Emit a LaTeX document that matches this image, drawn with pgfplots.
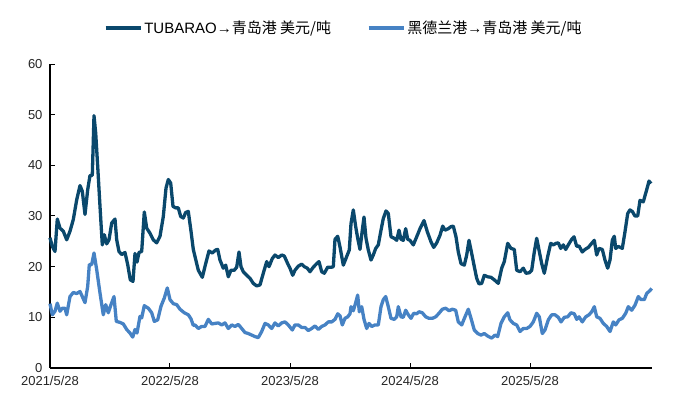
\documentclass[border=0pt]{standalone}
\usepackage{fontspec}
\setmainfont{Liberation Sans}
\newfontfamily\cjk{Noto Sans CJK SC}
\usepackage{pgfplots}
\pgfplotsset{compat=1.18}

\definecolor{darkline}{RGB}{10,72,108}
\definecolor{lightline}{RGB}{70,130,196}

% x = months since 2021/5/28
\pgfplotstableread{
m v
0 25.7
0.23 24
0.5 23
0.73 29.4
1.0 27.6
1.33 27
1.67 25.3
2.0 27
2.33 29.3
2.67 33.2
3.0 36
3.23 34.9
3.5 30.3
3.77 35.2
4.0 38
4.23 38
4.4 49.8
4.57 46.4
4.77 39.8
5.0 31.9
5.23 24.3
5.43 26.3
5.67 24.5
5.9 25.3
6.17 28.6
6.5 29.4
6.67 25.3
6.9 23
7.17 22.4
7.5 22.8
7.77 20.4
8.03 17.4
8.3 17.1
8.5 22.6
8.7 20.9
8.9 22.8
9.17 23
9.43 30.8
9.67 27.6
10.0 26.6
10.33 25.3
10.67 24.7
11.0 26
11.33 29.9
11.6 35.5
11.83 37.2
12.07 36.5
12.3 31.9
12.57 31.6
12.83 31.6
13.07 29.9
13.33 29.6
13.57 30.7
13.83 30.9
14.1 27
14.33 23.4
14.5 22
14.83 19.3
15.23 17.9
15.57 20.6
15.9 23.1
16.23 22.7
16.57 23.3
16.77 23.4
17.0 21.3
17.33 19.7
17.57 20.3
17.83 18
18.1 19.3
18.43 19.3
18.67 19.9
18.9 22.9
19.1 20
19.33 19
19.67 18.3
20.0 17.7
20.33 16.7
20.67 16.2
21.0 16.4
21.33 18.7
21.67 21
21.9 20
22.23 21.6
22.5 22.3
22.83 21.8
23.17 22.3
23.43 22.1
23.77 20.6
24.0 19.7
24.27 18.3
24.5 19.3
24.83 20.1
25.17 20.5
25.43 20
25.73 19.7
26.0 19
26.33 19.9
26.67 20.6
26.9 21
27.17 19
27.43 18.7
27.77 19.9
28.17 19.9
28.33 20
28.5 25.4
28.77 26
29.0 23.9
29.33 20.3
29.67 22
29.93 23.3
30.1 28.5
30.33 31.2
30.57 27.9
30.77 25.6
31.0 23.4
31.23 27.2
31.4 29.8
31.6 25.6
31.83 23.3
32.1 21.3
32.33 22.3
32.57 23.6
32.83 24.3
33.1 27.2
33.33 29.5
33.6 31.0
33.83 30.5
34.1 25.9
34.43 25.6
34.67 25.2
34.9 27.2
35.1 25.4
35.33 25.2
35.57 27.5
35.77 25.4
36.0 25.2
36.33 24.3
36.67 25.9
37.0 27.5
37.4 29.1
37.73 26.9
38.1 24.9
38.37 23.8
38.67 24.7
39.0 26.2
39.27 28.0
39.5 27.2
39.83 27.5
40.1 27.9
40.33 28.0
40.6 25.9
40.83 22.9
41.1 20.6
41.43 20.3
41.67 22.3
41.9 25.2
42.17 22.6
42.43 20.0
42.67 17.7
42.9 16.6
43.17 16.7
43.43 18.3
43.77 18.0
44.1 17.9
44.43 17.4
44.83 16.7
45.17 19.7
45.43 21.0
45.77 24.6
46.1 23.6
46.43 23.4
46.67 19.3
47.0 19.0
47.33 19.7
47.6 18.7
47.93 18.8
48.17 19.3
48.43 22.9
48.67 25.6
48.9 23.3
49.17 20.6
49.43 18.7
49.77 22.0
50.07 24.6
50.33 24.3
50.6 24.6
50.83 24.7
51.07 23.6
51.33 24.3
51.57 23.4
51.83 24.3
52.17 25.4
52.4 25.9
52.67 24.0
52.9 24.1
53.23 22.9
53.5 23.4
53.83 23.8
54.17 24.6
54.43 25.2
54.67 22.3
54.9 23.6
55.23 23.4
55.5 21.3
55.77 19.7
56.0 21.3
56.23 25.2
56.43 26.0
56.57 23.6
56.83 24.0
57.23 23.6
57.5 26.9
57.77 30.5
58.0 31.2
58.23 30.9
58.5 30.0
58.77 30.0
59.0 33.1
59.33 32.8
59.57 34.5
59.77 35.9
59.9 36.9
60.1 36.4
}\tubarao

\pgfplotstableread{
m v
0 12.7
0.23 10.5
0.5 11.2
0.73 12.8
1.0 11.2
1.23 11.8
1.5 11.8
1.67 10.5
2.0 14.1
2.33 14.9
2.67 14.7
3.0 15.1
3.23 14.1
3.5 12.9
3.77 16.1
3.93 20.4
4.17 20.4
4.4 22.7
4.67 19.4
5.0 14.8
5.33 10.5
5.57 12.5
5.83 10.9
6.1 12.5
6.4 14.1
6.63 9.2
7.0 9.0
7.33 8.7
7.67 7.6
8.0 6.9
8.27 6.1
8.5 7.6
8.7 6.9
9.0 10.2
9.17 9.9
9.43 12.3
9.83 11.8
10.17 10.9
10.43 9.2
10.77 9.5
11.1 12.2
11.43 13.8
11.73 15.8
12.0 13.5
12.33 12.7
12.67 12.5
13.0 11.6
13.43 10.9
13.83 10.5
14.1 9.7
14.33 8.4
14.5 8.5
14.83 7.8
15.17 8.2
15.5 8.2
15.83 9.6
16.17 8.7
16.5 8.8
16.83 8.9
17.17 8.5
17.5 8.9
17.83 7.8
18.17 8.5
18.5 8.2
18.83 8.6
19.17 7.8
19.5 7.0
19.83 6.8
20.17 6.5
20.5 6.2
20.83 6.0
21.17 7.2
21.5 8.8
21.83 8.5
22.17 7.8
22.5 8.9
22.83 8.3
23.17 8.9
23.5 9.1
23.83 8.5
24.23 7.5
24.5 8.5
24.83 8.5
25.17 8.0
25.5 8.0
25.83 7.4
26.17 7.8
26.5 8.3
26.83 7.6
27.17 8.2
27.5 8.5
27.83 9.1
28.17 9.1
28.5 9.6
28.77 10.7
29.0 10.3
29.23 8.5
29.5 9.8
29.77 10.1
30.0 10.7
30.1 12.1
30.33 11.3
30.57 12.9
30.77 14.4
30.93 11.1
31.17 12.1
31.4 9.6
31.67 7.8
31.9 8.8
32.17 8.2
32.5 8.5
32.83 8.5
33.1 12.1
33.33 13.5
33.57 14.1
33.83 12.1
34.1 9.8
34.43 9.6
34.67 10.1
34.83 12.1
35.1 10.1
35.33 10.0
35.57 11.4
35.83 10.5
36.1 9.8
36.37 10.8
36.67 10.7
36.9 11.1
37.23 10.9
37.57 10.1
37.9 9.8
38.23 9.8
38.57 10.1
38.9 10.8
39.23 11.6
39.57 11.8
39.9 11.3
40.23 11.6
40.57 11.4
40.83 9.1
41.17 8.5
41.5 10.1
41.83 11.6
42.1 9.8
42.43 7.5
42.77 6.8
43.1 6.5
43.43 6.8
43.77 6.3
44.17 5.9
44.5 6.5
44.77 6.2
45.1 8.8
45.43 10.1
45.77 10.9
46.0 9.5
46.33 8.8
46.67 8.5
47.0 7.2
47.33 7.8
47.67 7.8
48.0 8.2
48.33 9.1
48.67 10.8
48.93 10.1
49.23 6.8
49.5 7.5
49.83 9.5
50.17 10.5
50.5 10.5
50.83 10.0
51.1 9.1
51.43 10.0
51.77 10.1
52.1 10.9
52.43 10.7
52.67 9.6
52.9 10.1
53.23 9.1
53.57 10.1
53.9 10.5
54.17 11.1
54.43 12.1
54.67 10.1
55.0 9.8
55.33 8.8
55.67 8.2
56.0 7.2
56.33 9.1
56.57 8.5
56.9 9.5
57.23 9.8
57.57 10.8
57.83 12.1
58.17 11.4
58.5 12.4
58.83 14.1
59.1 13.5
59.43 13.5
59.67 14.7
60.0 15.3
60.17 15.7
}\hedland

\begin{document}
\begin{tikzpicture}
\path[use as bounding box] (-50pt,-33pt) rectangle (649pt,368pt);
\begin{axis}[
  at={(0,0)}, anchor=south west,
  scale only axis, width=602pt, height=304pt,
  xmin=0, xmax=60.2, ymin=0, ymax=60,
  axis lines*=left,
  axis line style={black, line width=1.2pt},
  tick align=inside,
  major tick length=5pt,
  tick style={black, line width=1pt},
  xtick={0,12,24,36,48},
  xticklabels={2021/5/28,2022/5/28,2023/5/28,2024/5/28,2025/5/28},
  ytick={0,10,...,60},
  /pgf/number format/assume math mode=true,
  tick label style={font=\fontsize{13}{15}\selectfont, text=black!85},
  yticklabel style={xshift=-4pt},
  xticklabel style={yshift=-5pt},
  legend columns=2,
  legend style={at={(0.488,1.118)}, anchor=center, draw=none, fill=none,
    font=\fontsize{15}{17}\selectfont,
    /tikz/every even column/.append style={column sep=34pt}},
  legend image code/.code={\draw[#1] (0pt,0pt) -- (35pt,0pt);},
  clip=false,
]
\addplot[darkline, line width=3.3pt, line join=round] table[x=m, y=v] {\tubarao};
\addlegendentry{TUBARAO→{\cjk 青岛港 美元/吨}}
\addplot[lightline, line width=3.3pt, line join=round] table[x=m, y=v] {\hedland};
\addlegendentry{{\cjk 黑德兰港}→{\cjk 青岛港 美元/吨}}
\end{axis}
\end{tikzpicture}
\end{document}
